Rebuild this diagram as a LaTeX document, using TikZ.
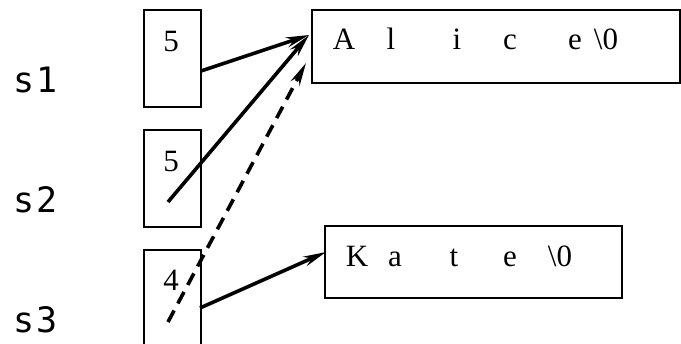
\documentclass[tikz,border=0pt]{standalone}
\usepackage{fontspec}
\setmainfont{Liberation Serif}
\newfontfamily\varfont{DejaVu Sans Mono}
\usetikzlibrary{arrows.meta}
\tikzset{>={Stealth[length=23pt,width=10pt]}}
\tikzset{
  cell/.style = {draw, line width=1.6pt, inner sep=0pt},
  ptr/.style = {->, line width=3.6pt},
  varname/.style = {font=\varfont\fontsize{35}{35}\selectfont, anchor=base, inner sep=0pt},
  chr/.style = {font=\fontsize{31}{31}\selectfont, anchor=base, inner sep=0pt}
}

\begin{document}
\begin{tikzpicture}[x=1pt, y=-1pt]
\useasboundingbox (0,0) rectangle (681,344);
% variables
\node[varname] (s1) at (36,93) {s\kern2pt1};
\node[varname] (s2) at (36,213) {s\kern2pt2};
\node[varname] (s3) at (36,333) {s\kern2pt3};
\node[cell, minimum width=57, minimum height=97] (s1box) at (172.5,58.5) {};
\node[cell, minimum width=57, minimum height=97] (s2box) at (172.5,178.5) {};
\node[cell, minimum width=57, minimum height=97] (s3box) at (172.5,298.5) {};
\node[chr] (n1) at (171,52) {5};
\node[chr] (n2) at (171,172) {5};
\node[chr] (n3) at (171,291) {4};
% strings
\node[cell, minimum width=368, minimum height=73] (alice) at (496,46.5) {};
\node[cell, minimum width=297, minimum height=72] (kate) at (473.5,262) {};
\foreach \c/\x [count=\i] in {A/344, l/391, i/457, c/510, e/575, \textbackslash0/606}
  \node[chr] (a\i) at (\x,50) {\c};
\foreach \c/\x [count=\i] in {K/357, a/395, t/454, e/510, \textbackslash0/560}
  \node[chr] (k\i) at (\x,267) {\c};
% pointers
\coordinate (p1) at (201,71);
\coordinate (p2) at (168,202);
\coordinate (p3) at (168,322);
\coordinate (p4) at (200,308);
\coordinate (q1) at (309,35);
\coordinate (q3) at (306,63);
\coordinate (q4) at (326,252);
\draw[ptr] (p1) -- (q1);
\draw[ptr] (p2) -- (q1);
\draw[ptr, dash pattern=on 13pt off 8pt] (p3) -- (q3);
\draw[ptr] (p4) -- (q4);
\end{tikzpicture}
\end{document}
